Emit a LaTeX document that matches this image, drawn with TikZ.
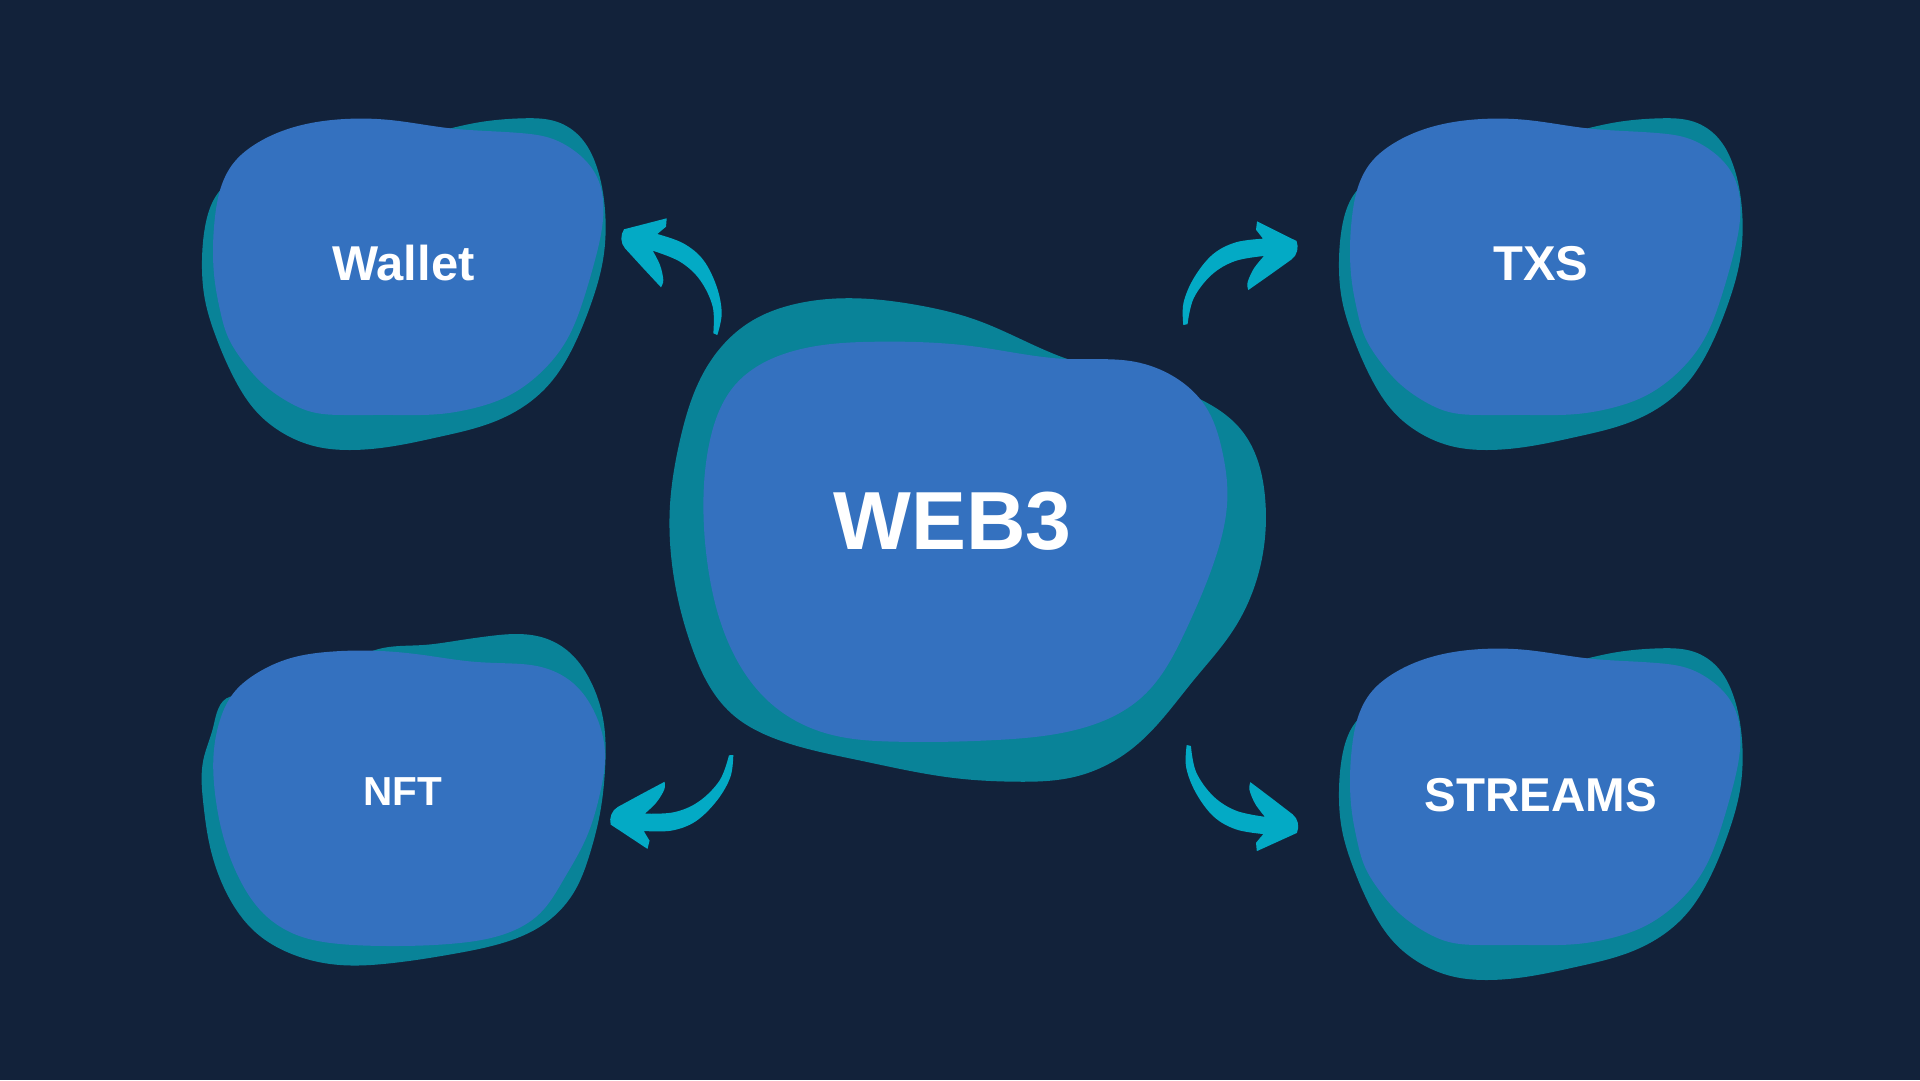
\documentclass[tikz,border=0pt]{standalone}
\usepackage{fontspec}
\setmainfont{Liberation Sans}
\usetikzlibrary{hobby}
\definecolor{bgc}{HTML}{12223A}
\definecolor{blobblue}{HTML}{3471BF}
\definecolor{blobteal}{HTML}{098398}
\definecolor{arrowc}{HTML}{03AAC5}
\tikzset{
  lbl/.style={text=white, inner sep=0pt, anchor=base, font=\bfseries}
}
\newcommand\myblobA{%
 \fill[blobteal] plot[closed hobby] coordinates {(473.3,123.3) (523.3,118.3) (556.7,121.7) (580,136.7) (596.7,166.7) (605,210) (603,260) (590,306.7) (573.3,346.7) (550,383.3) (523.3,406.7) (490,423.3) (440,436.7) (390,446.7) (350,450) (316.7,446.7) (283.3,433.3) (256.7,412) (234,378) (216,337) (205,300) (202,260) (205,227) (218,193) (256.7,166.7) (340,143.3) (420,135) (452,128)};
 \fill[blobblue] plot[closed hobby] coordinates {(213,250) (215,283) (220,310) (228,337) (242,360) (262,383) (285,400) (312,412) (345,415) (395,415) (440,414) (473.3,408.3) (506.7,396.7) (540,373.3) (566.7,340) (583.3,300) (595,260) (603.3,215) (596,175) (573.3,150) (550,138) (523.3,133.3) (450,128.3) (390,120) (340,119.3) (290,128.3) (256.7,143.3) (233.3,163.3) (221.7,185) (215,217)};
}
\newcommand\myarrow{%
 \fill[arrowc] (-50.6,-116.7) -- (-51.3,-108.3) -- (-60,-101)
  -- plot[smooth,tension=0.6] coordinates {(-60,-101) (-34,-91.7) (-14,-75) (-0.6,-48.3) (4.4,-21.7) (0,0)}
  -- plot[smooth,tension=0.6] coordinates {(-4,-1.7) (-4.6,-28.3) (-17.3,-55) (-37.3,-73.3) (-64.6,-84.3)}
  -- plot[smooth,tension=0.6] coordinates {(-64.6,-84.3) (-57.3,-70) (-54,-55) (-56.3,-47.7)}
  -- (-74,-66.7) -- (-92.3,-86.7) .. controls (-97,-92) and (-97,-100) .. (-93.3,-105.7) -- cycle;
}
\begin{document}
\begin{tikzpicture}[x=1pt,y=-1pt]
\useasboundingbox (0,0) rectangle (1920,1080);
\fill[bgc] (0,0) rectangle (1920,1080);

% Wallet blob
\myblobA
% TXS blob
\begin{scope}[shift={(1137,0)}] \myblobA \end{scope}
% STREAMS blob
\begin{scope}[shift={(1137,530)}] \myblobA \end{scope}
% NFT blob
\fill[blobteal] plot[closed hobby] coordinates {(230,696.7) (213.3,726.7) (203.3,760) (203.3,803.3) (210,846.7) (226.7,893.3) (256.7,933.3) (290,953.3) (340,965) (390,963.3) (456.7,953.3) (506.7,941.7) (540,926.7) (573.3,893.3) (590,853.3) (600,813.3) (605,770) (603.3,720) (590,680) (566.7,650) (540,636.7) (516.7,634) (490,636) (456.7,640.7) (423.3,645) (373.3,650.7) (323.3,686.7) (256.7,703.3)};
\fill[blobblue] plot[closed hobby] coordinates {(233.3,693.3) (256.7,673.3) (290,658.3) (330,651.7) (373.3,650.7) (423.3,655) (473.3,661.7) (506.7,663.3) (540,666.7) (573.3,683.3) (595,713.3) (605,753.3) (600,793.3) (586.7,836.7) (563.3,880) (540,913.3) (506.7,933.3) (456.7,943.3) (390,946) (340,944) (296.7,935) (263.3,913.3) (240,880) (223.3,836.7) (215,793.3) (213.3,760) (220,720)};

% Central blob
\fill[blobteal] plot[closed hobby] coordinates {(841.9,298.3) (917,305) (976.3,320) (1067.3,359) (1140,378) (1201.7,400) (1241.3,430) (1265,496.7) (1261,563.3) (1233.3,630) (1193.8,680) (1134.5,746.7) (1075.2,776.7) (1015.9,781.7) (956.6,778.3) (857.7,760) (778.6,740) (731.2,713.3) (691.6,646.7) (671.9,563.3) (670,505) (680,440) (705,370) (750,322) (798.4,303.3)};
\fill[blobblue] plot[closed hobby] coordinates {(703.5,496.7) (707,560) (727.2,640) (770.7,703.3) (826,733.3) (897,741.7) (996,740) (1075.2,730) (1142.4,696.7) (1185.9,630) (1213.6,563.3) (1227.4,496.7) (1222,450) (1205.7,406.7) (1174,376.7) (1134.5,361.7) (1067.3,359) (976.3,346.7) (877.5,341.7) (790,352) (735,385) (710,440)};

% Arrows
\begin{scope}[shift={(717.3,335)}] \myarrow \end{scope}
\begin{scope}[shift={(1183.3,325)}, rotate=-12, xscale=-1] \myarrow \end{scope}
\begin{scope}[shift={(733.3,755)}, rotate=-19, yscale=-1] \myarrow \end{scope}
\begin{scope}[shift={(1186.7,745)}, rotate=10, xscale=-1, yscale=-1] \myarrow \end{scope}

% Labels
\node[lbl, font=\fontsize{48.9}{50}\selectfont\bfseries] (wallet) at (403.5,280) {Wallet};
\node[lbl, font=\fontsize{48.9}{50}\selectfont\bfseries] (txs) at (1541,280) {TXS};
\node[lbl, font=\fontsize{40.5}{42}\selectfont\bfseries] (nft) at (403,805) {NFT};
\node[lbl, font=\fontsize{47.5}{49}\selectfont\bfseries] (streams) at (1541,811.7) {STREAMS};
\node[lbl, font=\fontsize{82.4}{84}\selectfont\bfseries] (web3) at (952.5,549) {WEB3};
\end{tikzpicture}
\end{document}
